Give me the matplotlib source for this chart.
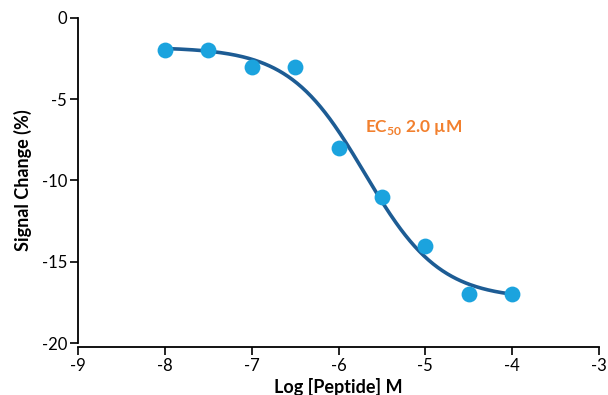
import numpy as np
import matplotlib
matplotlib.use('Agg')
import matplotlib.pyplot as plt

plt.rcParams['font.family'] = ['Lato', 'DejaVu Sans']
plt.rcParams['mathtext.fontset'] = 'custom'
plt.rcParams['mathtext.rm'] = 'Lato'
plt.rcParams['mathtext.bf'] = 'Lato:bold'
plt.rcParams['axes.unicode_minus'] = False

# measured points
log_conc = [-8, -7.5, -7, -6.5, -6, -5.5, -5, -4.5, -4]
signal = [-2, -2, -3, -3, -8, -11, -14, -17, -17]

# fitted dose-response parameters
fit_top = -1.8
fit_bottom = -17.3
log_ec50 = np.log10(2.0e-6)
hill = 1.0

xticks = [-9, -8, -7, -6, -5, -4, -3]
yticks = [0, -5, -10, -15, -20]

fig = plt.figure(figsize=(6.08, 3.95), dpi=100)
ax = fig.add_axes([78 / 608, 1 - 343 / 395, (599 - 78) / 608, (343 - 18) / 395])

xf = np.linspace(-8, -4, 300)
yf = fit_bottom + (fit_top - fit_bottom) / (1 + 10 ** ((xf - log_ec50) * hill))
ax.plot(xf, yf, color='#1d5c94', lw=2.6, zorder=2)
ax.scatter(log_conc, signal, s=130, color='#1ba3de', zorder=3, linewidths=0)

ax.text(-5.69, -6.75, r'EC$_{\mathbf{50}}$ 2.0 µM', color='#f2802e',
        fontsize=12.5, fontweight='bold', va='center', ha='left')

ax.set_xlim(-9, -3)
ax.set_ylim(-20, 0)
ax.set_xticks(xticks)
ax.set_yticks(yticks)
ax.tick_params(labelsize=12, length=6, width=1.2, direction='out', pad=2)
for s in ['top', 'right']:
    ax.spines[s].set_visible(False)
for s in ['left', 'bottom']:
    ax.spines[s].set_linewidth(1.3)
ax.spines['bottom'].set_position(('outward', 3))

ax.set_xlabel('Log [Peptide] M', fontsize=13, fontweight='bold', labelpad=3)
ax.set_ylabel('Signal Change (%)', fontsize=13, fontweight='bold', labelpad=7)

fig.savefig('out.png', dpi=100)
